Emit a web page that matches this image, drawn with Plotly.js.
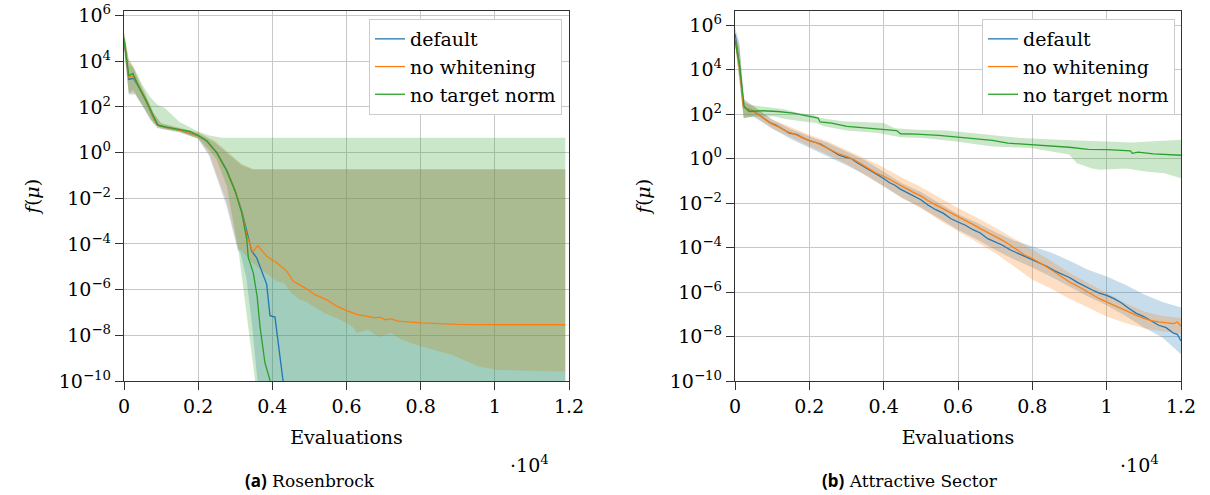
<!DOCTYPE html>
<html><head><meta charset="utf-8">
<script src="https://cdn.plot.ly/plotly-3.0.1.min.js"></script>
<style>html,body{margin:0;padding:0;background:#fff}#chart{width:1210px;height:495px}</style>
</head><body><div id="chart"></div>
<script>
// ---------- labels ----------
const seriesNames = ['default', 'no whitening', 'no target norm'];
const xTickVals = [0, 2000, 4000, 6000, 8000, 10000, 12000];
const xTickText = ['0', '0.2', '0.4', '0.6', '0.8', '1', '1.2'];
const yTickVals = [1e-10, 1e-8, 1e-6, 1e-4, 1e-2, 1e0, 1e2, 1e4, 1e6];
const yTickText = ['10<sup>−10</sup>', '10<sup>−8</sup>', '10<sup>−6</sup>', '10<sup>−4</sup>', '10<sup>−2</sup>', '10<sup>0</sup>', '10<sup>2</sup>', '10<sup>4</sup>', '10<sup>6</sup>'];
const captions = ['(a)', 'Rosenbrock', '(b)', 'Attractive Sector'];

// ---------- (a) Rosenbrock: mean lines ----------
const rb_default_x = [0,130,250,390,600,800,910,1110,1530,2010,2230,2500,2770,2995,3175,3310,3444,3578,3700,3848,3937,4072,4180,4290];
const rb_default_y = [1e5,1.6e3,1.8e3,7.9e2,1.7e2,32,16,13,9.5,5.4,3.2,1.0,0.17,2.2e-2,2.8e-3,3.2e-4,4.8e-5,2.5e-5,7.9e-6,1.7e-6,7.2e-8,6.3e-8,2.5e-9,1e-10];
const rb_whitening_x = [0,130,240,390,600,800,910,1110,1530,2010,2230,2500,2770,2995,3175,3310,3470,3605,3848,4117,4387,4567,4880,5150,5465,5735,6005,6275,6545,6770,6900,7050,7200,7400,8000,9000,10000,11900];
const rb_whitening_y = [9.5e4,1.9e3,2.4e3,8e2,1.8e2,33,16,13,9.5,5.4,3.2,1.0,0.16,2.2e-2,2.6e-3,2.5e-4,4.4e-5,8.5e-5,2.9e-5,1.5e-5,6.5e-6,2.3e-6,1.2e-6,6e-7,3.6e-7,1.9e-7,1.2e-7,8.3e-8,6.8e-8,5.8e-8,6.3e-8,4.8e-8,5.2e-8,4.2e-8,3.5e-8,3e-8,2.9e-8,2.9e-8];
const rb_target_x = [0,130,240,390,600,800,910,1110,1530,1780,2010,2230,2500,2770,2995,3175,3310,3352,3487,3590,3667,3800,3960];
const rb_target_y = [8.9e4,2.3e3,2.9e3,8.3e2,1.9e2,35,16,13.5,9.8,8.5,5.5,3.3,1.0,0.16,2.1e-2,2.3e-3,1.6e-4,2.5e-5,5.4e-6,5e-7,2.5e-8,6.3e-10,8e-11];

// ---------- (a) Rosenbrock: shaded bands ----------
const rb_default_hi_x = [0,130,250,400,600,800,1000,1500,2010,2450,2870,3175,3485,11900];
const rb_default_hi = [1.8e5,7.9e3,5e3,1.26e3,2.8e2,50,19,12,7.1,2.8,0.71,0.28,0.18,0.18];
const rb_default_lo_x = [0,130,300,500,700,900,1100,1500,2000,2300,2560,2760,2870,2970,3070,3130,3300,3450,3600,3650,11900];
const rb_default_lo = [3.5e4,3.5e2,3.5e2,1.1e2,28,12,10,7.6,4,0.71,4.5e-2,5e-3,1e-3,2e-4,5e-5,4.5e-5,3.2e-6,3.2e-8,1e-10,1e-12,1e-12];
const rb_whitening_hi_x = [0,130,250,400,600,800,1000,1500,2010,2450,2870,3175,3485,11900];
const rb_whitening_hi = [2e5,1e4,6.3e3,1.6e3,3.2e2,56,20,12.6,7.6,3.3,0.87,0.32,0.19,0.19];
const rb_whitening_lo_x = [0,130,300,500,700,900,1100,1500,2000,2300,2560,2760,2870,2970,3070,3175,3450,3757,3900,4117,4310,4515,4746,4928,5375,5825,6165,6275,6577,6887,7196,7505,8021,8845,9567,10082,11900];
const rb_whitening_lo = [4e4,4e2,4e2,1.26e2,32,12.6,10.5,7.9,4.2,0.87,5.9e-2,7.9e-3,1.5e-3,2.8e-4,6.3e-5,5e-5,1.6e-5,6.3e-6,4.4e-6,2.3e-6,2e-6,6.9e-7,3.6e-7,2.8e-7,1e-7,4.8e-8,2.4e-8,1.26e-8,1.7e-8,8.7e-9,1.23e-8,6.3e-9,3.2e-9,1.4e-9,4.3e-10,3e-10,2.6e-10];
const rb_target_hi_x = [0,130,300,500,700,900,1100,1500,2000,2300,2650,11900];
const rb_target_hi = [1.6e5,1.26e4,4e3,8.9e2,2.8e2,1.26e2,89,22,8.5,5.6,4.5,4.5];
const rb_target_lo_x = [0,130,250,400,600,800,1000,1500,2000,2300,2500,2770,2950,3083,3173,3263,3398,3533,3560,11900];
const rb_target_lo = [5e4,4e2,5.6e2,2e2,63,20,12,8.5,4,1.26,0.5,3.5e-2,8.5e-4,5.8e-5,5.4e-6,2.6e-7,6.3e-9,1.1e-10,1e-12,1e-12];

// ---------- (b) Attractive Sector: mean lines ----------
const as_default_x = [0,120,230,300,480,640,800,950,1100,1260,1460,1670,1800,2000,2150,2300,2450,2600,2800,3000,3100,3300,3450,3650,3850,4000,4150,4300,4450,4650,4850,5000,5200,5400,5600,5800,6000,6200,6400,6600,6800,7000,7200,7400,7600,7800,8000,8200,8400,8600,8800,9000,9200,9400,9600,9800,10000,10200,10400,10600,10800,11000,11200,11400,11600,11800,11900,12000];
const as_default_y = [4e5,1.6e4,2.2e2,1.8e2,1.4e2,89,56,40,32,22,14,12,8.9,6.3,5.2,4.5,3.2,2.2,1.4,1.1,1.05,0.63,0.45,0.28,0.17,0.126,8.3e-2,6.3e-2,4.2e-2,2.8e-2,1.8e-2,1.4e-2,7.9e-3,5e-3,3.5e-3,2e-3,1.4e-3,1e-3,6.3e-4,4.5e-4,2.5e-4,1.8e-4,1.26e-4,7.9e-5,5.6e-5,4e-5,2.8e-5,2e-5,1.4e-5,8.9e-6,6.3e-6,4.5e-6,2.8e-6,1.8e-6,1.26e-6,8.9e-7,7.1e-7,5e-7,3.2e-7,1.8e-7,1.1e-7,7.9e-8,5e-8,3.2e-8,2.5e-8,1.4e-8,1.26e-8,6.3e-9];
const as_whitening_x = [0,120,230,400,600,800,1000,1200,1400,1600,1800,2000,2200,2400,2600,2800,3000,3200,3400,3600,3800,4000,4200,4400,4600,4800,5000,5200,5400,5600,5800,6000,6200,6400,6600,6800,7000,7200,7400,7600,7800,8000,8200,8400,8600,8800,9000,9200,9400,9600,9800,10000,10200,10400,10600,10800,11000,11200,11400,11600,11800,11900,12000];
const as_whitening_y = [2.5e5,1.26e4,2e2,1.6e2,1e2,60,35,25,16,12.6,8.9,6.6,5,3.5,2.4,1.6,1.26,0.89,0.56,0.35,0.22,0.16,0.105,6.6e-2,4.5e-2,3e-2,2.1e-2,1.26e-2,8.3e-3,5.6e-3,3.5e-3,2.4e-3,1.7e-3,1.1e-3,7.1e-4,4.8e-4,3.2e-4,2.1e-4,1.3e-4,7.9e-5,4.5e-5,3.2e-5,2.1e-5,1.3e-5,7.9e-6,4.5e-6,2.8e-6,1.9e-6,1.26e-6,7.9e-7,5e-7,3.5e-7,2.5e-7,1.8e-7,1.2e-7,8.9e-8,6.6e-8,5.2e-8,4.5e-8,4e-8,3.8e-8,4.5e-8,3e-8];
const as_target_x = [0,124,247,381,742,1155,1567,1979,2237,2289,2598,3010,3629,4041,4351,4454,4866,5485,6000,6515,6928,7340,7959,8474,8990,9505,10021,10639,10691,10845,11258,12000];
const as_target_y = [2.2e5,1.4e4,2.1e2,1.3e2,1.4e2,1.3e2,1.1e2,78,66,44,39,28,23,21,18,13,12.6,11,8.9,7.4,6.5,4.9,4.2,3.5,3.2,2.6,2.5,2.2,1.7,1.95,1.6,1.4];

// ---------- (b) Attractive Sector: shaded bands ----------
const as_band_x = [0,120,230,500,1000,1500,2000,2500,3000,3500,4000,4500,5000,5500,6000,6500,7000,7500,8000,8500,9000,9500,10000,10500,11000,11500,12000];
const as_default_hi = [7.94e5,1.58e5,5.01e2,2.14e2,56.2,21.4,10,5.01,2.0,0.832,0.251,7.59e-2,3.16e-2,1e-2,3.16e-3,1.32e-3,5.01e-4,2.09e-4,1.12e-4,6.03e-5,2.51e-5,1e-5,5.01e-6,2.14e-6,7.94e-7,3.55e-7,2.0e-7];
const as_default_lo = [2.0e5,3.98e3,70.8,75.9,22.4,7.59,3.16,1.26,0.501,0.186,5.62e-2,1.7e-2,6.31e-3,2.0e-3,6.31e-4,2.34e-4,7.94e-5,2.95e-5,1.26e-5,4.79e-6,1.78e-6,6.31e-7,2.51e-7,8.51e-8,2.51e-8,8.91e-9,1.58e-9];
const as_whitening_hi = [5.01e5,1e5,3.98e2,2.34e2,56.2,25.1,11.7,5.89,2.51,1,0.398,0.135,5.25e-2,1.7e-2,6.03e-3,2.24e-3,7.94e-4,2.57e-4,7.94e-5,2.57e-5,7.08e-6,2.51e-6,8.91e-7,3.24e-7,1.32e-7,8.32e-8,6.76e-8];
const as_whitening_lo = [1.26e5,3.16e3,63.1,83.2,22.4,8.91,3.72,1.48,0.562,0.178,5.62e-2,1.7e-2,5.89e-3,1.7e-3,5.37e-4,1.78e-4,5.62e-5,1.45e-5,3.55e-6,1.45e-6,5.01e-7,2.0e-7,7.94e-8,4.07e-8,2.34e-8,1.66e-8,1.35e-8];
const as_target_hi_x = [0,124,260,400,700,1000,1300,1700,2100,2300,2900,3700,4000,4300,4900,5700,6300,6700,7200,7700,8700,9700,10700,12000];
const as_target_hi = [4.5e5,7.9e4,3.2e2,2.6e2,2.2e2,2e2,1.7e2,1.1e2,93,66,47,42,39,23,19.5,18,14,11.7,9.8,8.3,6.9,5.9,5.2,6.9];
const as_target_lo_x = [0,124,240,380,560,1050,1360,1770,2180,2390,3010,3840,4460,5070,5900,6930,7960,8990,9200,9610,9810,10530,11040,11560,12000];
const as_target_lo = [1.6e5,3.2e3,63,71,78,78,59,47,39,28,18,14,9.1,8.3,5.9,3.5,3,1.5,0.62,0.36,0.31,0.36,0.26,0.22,0.13];

// ---------- styling ----------
const LINE_COLORS = ['#1f77b4', '#ff7f0e', '#2ca02c'];
const FILL_COLORS = ['rgba(31,119,180,0.25)', 'rgba(255,127,14,0.25)', 'rgba(44,160,44,0.25)'];
const SERIF = 'DejaVu Serif';
const FS = 19;

function band(xh, yh, xl, yl, i, xa, ya) {
  return {
    type: 'scatter', mode: 'lines', xaxis: xa, yaxis: ya,
    x: xh.concat(xl.slice().reverse()),
    y: yh.concat(yl.slice().reverse()),
    fill: 'toself', fillcolor: FILL_COLORS[i], line: {width: 0, color: FILL_COLORS[i]},
    hoverinfo: 'skip', showlegend: false
  };
}
function line(x, y, i, xa, ya, leg) {
  return {
    type: 'scatter', mode: 'lines', xaxis: xa, yaxis: ya, x: x, y: y,
    name: seriesNames[i], legend: leg, legendgroup: leg + i,
    line: {color: LINE_COLORS[i], width: 1.3}
  };
}

const data = [
  band(rb_default_hi_x, rb_default_hi, rb_default_lo_x, rb_default_lo, 0, 'x', 'y'),
  band(rb_whitening_hi_x, rb_whitening_hi, rb_whitening_lo_x, rb_whitening_lo, 1, 'x', 'y'),
  band(rb_target_hi_x, rb_target_hi, rb_target_lo_x, rb_target_lo, 2, 'x', 'y'),
  line(rb_default_x, rb_default_y, 0, 'x', 'y', 'legend'),
  line(rb_whitening_x, rb_whitening_y, 1, 'x', 'y', 'legend'),
  line(rb_target_x, rb_target_y, 2, 'x', 'y', 'legend'),
  band(as_band_x, as_default_hi, as_band_x, as_default_lo, 0, 'x2', 'y2'),
  band(as_band_x, as_whitening_hi, as_band_x, as_whitening_lo, 1, 'x2', 'y2'),
  band(as_target_hi_x, as_target_hi, as_target_lo_x, as_target_lo, 2, 'x2', 'y2'),
  line(as_default_x, as_default_y, 0, 'x2', 'y2', 'legend2'),
  line(as_whitening_x, as_whitening_y, 1, 'x2', 'y2', 'legend2'),
  line(as_target_x, as_target_y, 2, 'x2', 'y2', 'legend2')
];

const FONT = {family: SERIF, size: FS, color: '#000'};
function xAxis(domain, anchor) {
  return {
    domain: domain, anchor: anchor, range: [0, 12000],
    tickmode: 'array', tickvals: xTickVals, ticktext: xTickText,
    showgrid: true, gridcolor: '#c8c8c8', gridwidth: 1, zeroline: false,
    showline: true, mirror: true, linecolor: '#333', linewidth: 1.2,
    ticks: 'outside', ticklen: 8, tickcolor: '#333', tickwidth: 1,
    tickfont: FONT,
    title: {text: 'Evaluations', font: FONT, standoff: 14},
    automargin: false
  };
}
function yAxis(domain, anchor, top) {
  return {
    domain: domain, anchor: anchor, type: 'log', range: [-10, top],
    tickmode: 'array', tickvals: yTickVals, ticktext: yTickText,
    showgrid: true, gridcolor: '#c8c8c8', gridwidth: 1, zeroline: false,
    showline: true, mirror: true, linecolor: '#333', linewidth: 1.2,
    ticks: 'outside', ticklen: 8, tickcolor: '#333', tickwidth: 1,
    tickfont: FONT,
    title: {text: '<i>f</i>(<i>μ</i>)', font: FONT, standoff: 14},
    automargin: false
  };
}
function legendBox(xr) {
  return {
    x: xr, xanchor: 'right', y: 0.9616, yanchor: 'top',
    bgcolor: '#ffffff', bordercolor: '#cccccc', borderwidth: 1,
    font: FONT, tracegroupgap: 0, itemwidth: 30
  };
}
const ann = (x, y, text, size) => ({xref: 'paper', yref: 'paper', x: x, y: y, xanchor: 'center', yanchor: 'middle',
  text: text, showarrow: false, font: {family: SERIF, size: size, color: '#000'}});

const layout = {
  width: 1210, height: 495, margin: {l: 0, r: 0, t: 0, b: 0},
  paper_bgcolor: '#fff', plot_bgcolor: '#fff',
  xaxis: xAxis([124/1210, 569/1210], 'y'),
  yaxis: yAxis([114/495, 484/495], 'x', 6.2),
  xaxis2: xAxis([735/1210, 1181/1210], 'y2'),
  yaxis2: yAxis([114/495, 484/495], 'x2', 6.63),
  legend: legendBox(562/1210),
  legend2: legendBox(1175/1210),
  annotations: [
    ann(529/1210, (495-464)/495, '·10<sup>4</sup>', FS),
    ann(1139/1210, (495-464)/495, '·10<sup>4</sup>', FS),
    ann(310/1210, (495-480)/495, '<span style="font-family:Noto Sans;font-weight:bold">' + captions[0] + '</span> ' + captions[1], 17),
    ann(910/1210, (495-480)/495, '<span style="font-family:Noto Sans;font-weight:bold">' + captions[2] + '</span> ' + captions[3], 17)
  ],
  showlegend: true
};

Plotly.newPlot('chart', data, layout, {displayModeBar: false, staticPlot: true});
</script>
</body></html>
